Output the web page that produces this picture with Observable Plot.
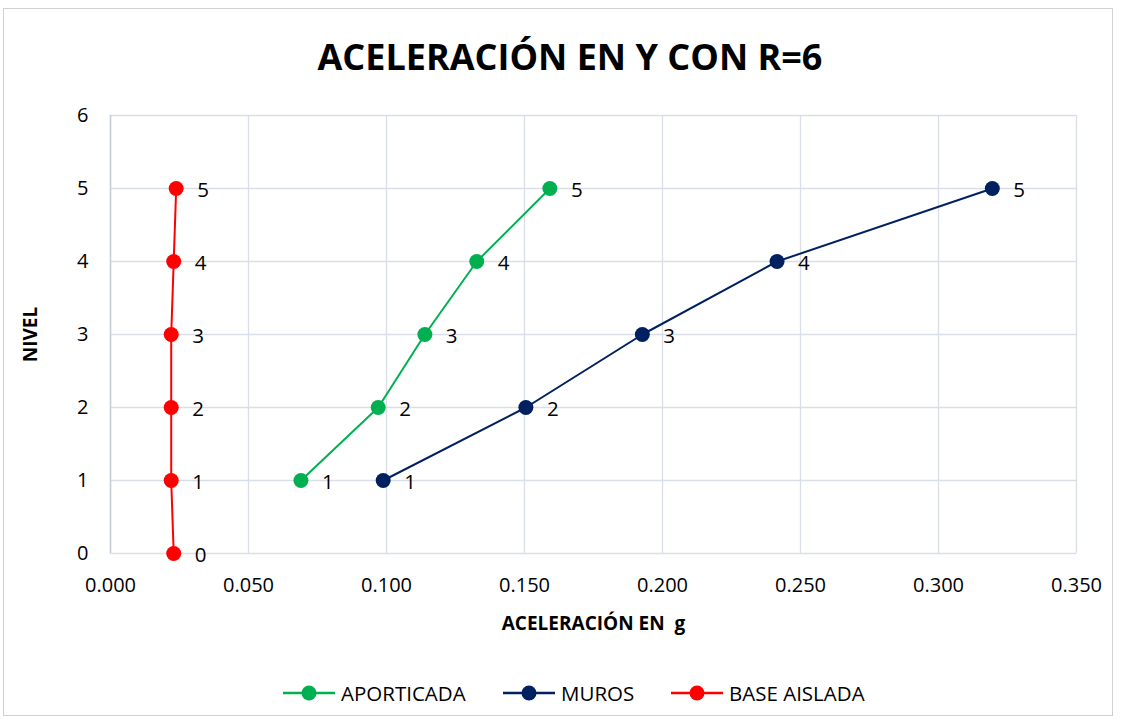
<!DOCTYPE html>
<html>
<head>
<meta charset="utf-8">
<script src="https://cdn.jsdelivr.net/npm/d3@7"></script>
<script src="https://cdn.jsdelivr.net/npm/@observablehq/plot@0.6"></script>
<style>
  body { margin: 0; background: #fff; font-family: "Open Sans", sans-serif; }
  #frame { position: absolute; left: 3px; top: 8px; width: 1110px; height: 708px; border: 1px solid #d0d0d0; box-sizing: border-box; }
  #title { position: absolute; left: 0; width: 1140px; top: 32px; text-align: center; font-weight: bold; font-size: 36px; color: #000; }
  #chart { position: absolute; left: 0; top: 90px; }
  #legend { position: absolute; top: 679px; left: 0; width: 1123px; height: 24px; }
  .lg { position: absolute; top: 0; display: flex; align-items: center; font-size: 20.5px; color: #000; }
  .lg svg { margin-right: 6px; }
</style>
</head>
<body>
<div id="frame"></div>
<div id="title">ACELERACIÓN EN Y CON R=6</div>
<div id="chart"></div>
<div id="legend"></div>
<script>
const seriesNames = ["APORTICADA", "MUROS", "BASE AISLADA"];
const seriesColors = ["#00b050", "#002060", "#ff0000"];
const aporticadaLevels = [1, 2, 3, 4, 5];
const aporticadaAcc = [0.0690, 0.0970, 0.1139, 0.1327, 0.1592];
const murosLevels = [1, 2, 3, 4, 5];
const murosAcc = [0.0988, 0.1505, 0.1927, 0.2415, 0.3195];
const baseLevels = [0, 1, 2, 3, 4, 5];
const baseAcc = [0.0229, 0.0220, 0.0220, 0.0220, 0.0229, 0.0238];
const xTicks = [0, 0.05, 0.10, 0.15, 0.20, 0.25, 0.30, 0.35];
const yTicks = [0, 1, 2, 3, 4, 5, 6];
const xLabel = "ACELERACIÓN EN  g";
const yLabel = "NIVEL";

const rows = [];
aporticadaLevels.forEach((l, i) => rows.push({serie: seriesNames[0], nivel: l, acc: aporticadaAcc[i]}));
murosLevels.forEach((l, i) => rows.push({serie: seriesNames[1], nivel: l, acc: murosAcc[i]}));
baseLevels.forEach((l, i) => rows.push({serie: seriesNames[2], nivel: l, acc: baseAcc[i]}));

const font = "'Open Sans', sans-serif";
const grid = "#d9dee8";

const plot = Plot.plot({
  width: 1123,
  height: 560,
  marginLeft: 110,
  marginRight: 47,
  marginTop: 25,
  marginBottom: 97,
  style: {fontFamily: font, fontSize: "20px", color: "#000", background: "transparent"},
  x: {domain: [0, 0.35], ticks: xTicks, tickFormat: d3.format(".3f")},
  y: {domain: [0, 6], ticks: yTicks, tickFormat: d3.format("d")},
  color: {domain: seriesNames, range: seriesColors},
  marks: [
    Plot.gridX(xTicks, {stroke: grid, strokeOpacity: 1, strokeWidth: 1.3}),
    Plot.gridY(yTicks, {stroke: grid, strokeOpacity: 1, strokeWidth: 1.3}),
    Plot.ruleX([0], {stroke: "#c7cdd8", strokeWidth: 1.5}),
    Plot.axisX(xTicks, {tickSize: 0, tickPadding: 24, tickFormat: d3.format(".3f"), fontSize: 20, label: null}),
    Plot.axisY(yTicks, {tickSize: 0, tickPadding: 22, tickFormat: d3.format("d"), fontSize: 20, label: null}),
    Plot.text([xLabel], {frameAnchor: "bottom", textAnchor: "middle", dy: 76, fontWeight: "bold", fontSize: 19}),
    Plot.text([yLabel], {frameAnchor: "left", textAnchor: "middle", dx: -80, rotate: -90, fontWeight: "bold", fontSize: 19}),
    Plot.line(rows, {x: "acc", y: "nivel", z: "serie", stroke: "serie", strokeWidth: 2}),
    Plot.dot(rows, {x: "acc", y: "nivel", fill: "serie", r: 7.5}),
    Plot.text(rows, {x: "acc", y: "nivel", text: d => String(d.nivel), textAnchor: "start", dx: 21, dy: 2, fontSize: 20.5, fill: "#000"})
  ]
});
document.getElementById("chart").appendChild(plot);

const legendPos = [283, 503, 671];
const legend = document.getElementById("legend");
seriesNames.forEach((name, i) => {
  const div = document.createElement("div");
  div.className = "lg";
  div.style.left = legendPos[i] + "px";
  div.innerHTML = `<svg width="52" height="24"><line x1="0" x2="52" y1="12" y2="12" stroke="${seriesColors[i]}" stroke-width="2.5"/><circle cx="26" cy="12" r="7.5" fill="${seriesColors[i]}"/></svg><span>${name}</span>`;
  legend.appendChild(div);
});
</script>
</body>
</html>
